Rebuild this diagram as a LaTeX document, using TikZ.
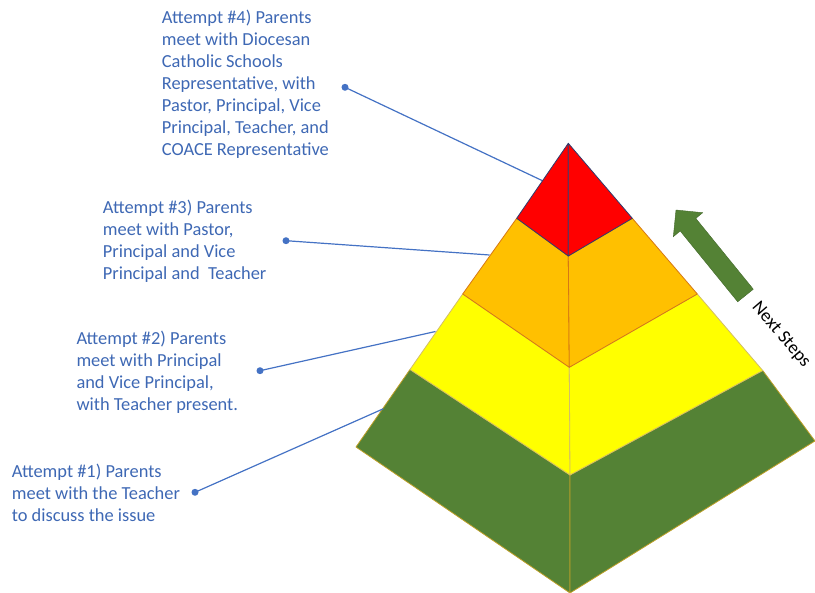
\documentclass[tikz,border=0pt]{standalone}
\usepackage{fontspec}
\setmainfont{Carlito}
\definecolor{lbl}{RGB}{62,104,180}
\definecolor{lline}{RGB}{68,114,196}
\definecolor{pred}{RGB}{255,0,0}
\definecolor{porange}{RGB}{255,192,0}
\definecolor{pyellow}{RGB}{255,255,0}
\definecolor{pgreen}{RGB}{84,130,53}
\definecolor{navy}{RGB}{47,59,110}
\definecolor{dorange}{RGB}{214,120,20}
\definecolor{gold}{RGB}{191,160,40}
\tikzset{
  lbltext/.style={anchor=north west, inner sep=0pt, align=left, text=lbl,
    font=\fontsize{18.4}{22}\selectfont},
  leader/.style={draw=lline, line width=1.2pt},
  dot/.style={circle, fill=lline, inner sep=0pt, minimum size=7pt},
  face/.style={line width=0.8pt, line join=round}
}
\begin{document}
\begin{tikzpicture}[x=1pt,y=-1pt]
\useasboundingbox (0,0) rectangle (815,593);
% pyramid points
\coordinate (A) at (568.3,143.3);
\coordinate (RL) at (516.7,218.3);
\coordinate (RM) at (568.3,256);
\coordinate (RR) at (632.3,218.3);
\coordinate (OL) at (462.7,294);
\coordinate (OM) at (569.3,367.3);
\coordinate (OR) at (697.3,294);
\coordinate (YL) at (410,369.5);
\coordinate (YM) at (570,475);
\coordinate (YR) at (762.7,370.5);
\coordinate (GL) at (356,447);
\coordinate (GM) at (570,593);
\coordinate (GR) at (815,441);
% green layer
\filldraw[face, fill=pgreen, draw=gold] (YL) -- (GL) -- (GM) -- (YM) -- cycle;
\filldraw[face, fill=pgreen, draw=gold] (YM) -- (GM) -- (GR) -- (YR) -- cycle;
% yellow layer
\filldraw[face, fill=pyellow, draw=gold!70] (OL) -- (YL) -- (YM) -- (OM) -- cycle;
\filldraw[face, fill=pyellow, draw=gold!70] (OM) -- (YM) -- (YR) -- (OR) -- cycle;
% orange layer
\filldraw[face, fill=porange, draw=dorange] (RL) -- (OL) -- (OM) -- (RM) -- cycle;
\filldraw[face, fill=porange, draw=dorange] (RM) -- (OM) -- (OR) -- (RR) -- cycle;
% red layer
\filldraw[face, fill=pred, draw=navy] (A) -- (RL) -- (RM) -- cycle;
\filldraw[face, fill=pred, draw=navy] (A) -- (RM) -- (RR) -- cycle;
% labels
\node[lbltext] (t4) at (161.7,10.3) {Attempt \#4) Parents\\meet with Diocesan\\Catholic Schools\\Representative, with\\Pastor, Principal, Vice\\Principal, Teacher, and\\COACE Representative};
\node[lbltext] (t3) at (102.7,199.7) {Attempt \#3) Parents\\meet with Pastor,\\Principal and Vice\\Principal and\ \ Teacher};
\node[lbltext] (t2) at (76.3,331) {Attempt \#2) Parents\\meet with Principal\\and Vice Principal,\\with Teacher present.};
\node[lbltext] (t1) at (11.7,464.3) {Attempt \#1) Parents\\meet with the Teacher\\to discuss the issue};
% leader lines
\node[dot] (d4) at (345,87.3) {};
\node[dot] (d3) at (286,240.7) {};
\node[dot] (d2) at (260,370.7) {};
\node[dot] (d1) at (195,492.3) {};
\coordinate (e4) at (542,180.5);
\coordinate (e3) at (489.5,255);
\coordinate (e2) at (435.5,331.5);
\coordinate (e1) at (383.3,408.8);
\draw[leader] (d4.center) -- (e4);
\draw[leader] (d3.center) -- (e3);
\draw[leader] (d2.center) -- (e2);
\draw[leader] (d1.center) -- (e1);
% next steps arrow
\filldraw[fill=pgreen, draw=pgreen!80!black, line width=0.4pt, line join=miter]
  (753.3,289.2) -- (695.8,218.4) -- (702.7,212.7) -- (676,210) -- (673.3,236.7)
  -- (680.2,231) -- (737.7,301.8) -- cycle;
\node[rotate=-49.3, font=\fontsize{18.4}{22}\selectfont, inner sep=0pt] (ns) at (781,335) {Next Steps};
\end{tikzpicture}
\end{document}
